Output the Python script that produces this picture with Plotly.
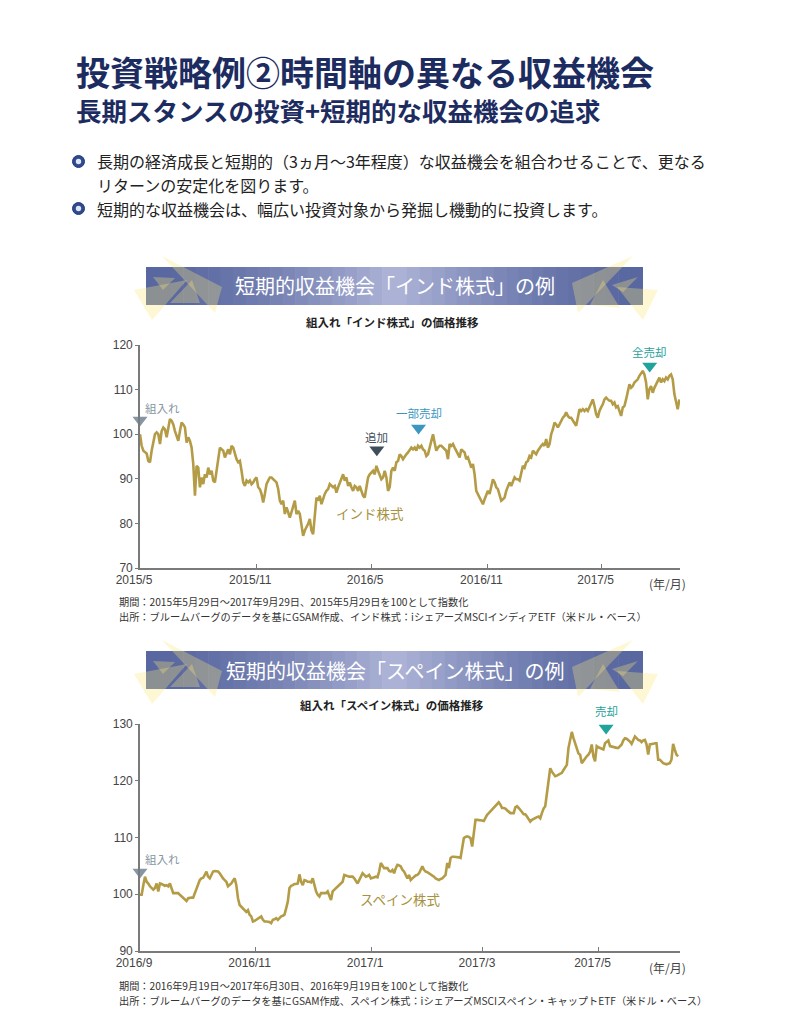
import plotly.graph_objects as go
import pandas as pd

# ---------------- data ----------------
india_start, india_end = "2015-05-29", "2017-09-29"
india_values = [
    100.0, 97.4, 96.3, 95.9, 95.7, 94.0, 93.7, 96.3, 98.5, 100.0,
    100.4, 100.0, 97.8, 100.7, 101.5, 101.1, 99.3, 101.5, 103.4, 103.0,
    102.2, 100.7, 99.3, 98.5, 100.7, 102.6, 102.2, 101.5, 98.1, 99.3,
    98.5, 97.0, 93.3, 86.2, 92.9, 92.5, 88.1, 90.3, 88.8, 91.0,
    90.3, 92.5, 91.0, 91.8, 89.6, 89.2, 91.8, 94.0, 97.0, 96.6,
    96.3, 94.8, 95.9, 96.6, 95.5, 97.4, 97.0, 95.5, 94.4, 93.7,
    94.0, 91.8, 89.2, 88.4, 89.6, 89.2, 89.6, 88.8, 89.2, 89.9,
    90.3, 88.1, 87.7, 86.6, 84.7, 86.6, 88.8, 89.6, 90.3, 90.3,
    89.9, 89.6, 89.2, 87.7, 85.1, 84.3, 85.1, 82.1, 83.6, 82.5,
    81.3, 82.5, 83.6, 85.1, 82.1, 82.8, 82.1, 79.9, 77.2, 78.4,
    79.1, 79.9, 81.0, 78.4, 77.6, 81.3, 85.8, 85.1, 86.2, 84.3,
    85.8, 86.6, 87.3, 87.7, 88.8, 88.4, 88.1, 88.4, 86.9, 88.1,
    89.2, 89.9, 91.0, 89.6, 90.3, 88.4, 89.2, 88.1, 87.3, 88.4,
    88.1, 87.3, 88.4, 87.3, 86.2, 85.8, 88.1, 90.3, 91.0, 91.4,
    91.8, 91.0, 92.9, 91.8, 91.0, 89.9, 90.3, 91.8, 90.3, 87.3,
    88.1, 91.8, 92.5, 91.8, 93.7, 94.0, 95.5, 95.1, 94.4, 95.1,
    95.5, 95.9, 96.6, 97.0, 96.6, 97.0, 96.3, 97.4, 97.0, 97.4,
    96.6, 96.3, 95.1, 95.5, 97.0, 98.5, 100.0, 98.1, 96.3, 97.0,
    97.4, 97.4, 97.0, 96.6, 96.3, 94.4, 97.8, 97.4, 97.8, 97.0,
    96.3, 95.5, 94.8, 96.6, 96.3, 95.9, 94.4, 94.8, 93.7, 92.5,
    93.3, 91.0, 87.3, 86.6, 85.8, 85.1, 84.3, 85.4, 86.6, 87.3,
    86.6, 88.4, 89.9, 89.2, 88.1, 87.7, 86.6, 85.1, 85.4, 85.8,
    87.3, 88.1, 89.2, 88.4, 89.6, 90.3, 89.9, 89.9, 89.6, 91.0,
    92.9, 92.5, 93.7, 94.0, 95.1, 94.8, 96.3, 95.9, 95.5, 96.3,
    97.0, 97.4, 97.8, 97.4, 98.9, 97.0, 97.8, 100.0, 101.1, 102.6,
    102.2, 101.5, 102.2, 103.0, 103.7, 104.1, 104.9, 104.1, 103.7, 103.7,
    103.0, 102.6, 101.9, 103.7, 105.6, 105.2, 105.6, 105.2, 105.6, 105.2,
    106.0, 107.1, 107.8, 106.3, 104.5, 103.7, 105.2, 106.0, 106.7, 107.8,
    108.2, 107.8, 107.5, 107.5, 106.7, 107.1, 106.0, 106.3, 105.2, 104.1,
    106.0, 106.3, 107.8, 109.3, 111.2, 110.4, 110.8, 111.6, 111.9, 112.3,
    113.1, 113.8, 114.2, 113.4, 111.6, 107.8, 110.1, 110.8, 109.3, 110.4,
    111.2, 111.9, 112.7, 111.6, 112.3, 111.9, 112.7, 112.3, 113.1, 113.4,
    112.3, 109.0, 107.5, 105.6, 107.8,
]
india_tick_dates = ["2015-05-29", "2015-11-29", "2016-05-29", "2016-11-29", "2017-05-29"]
india_tick_text = ["2015/5", "2015/11", "2016/5", "2016/11", "2017/5"]
india_events = ["組入れ", "追加", "一部売却", "全売却"]
india_event_dates = ["2015-05-29", "2016-06-07", "2016-08-12", "2017-08-13"]
india_event_y = [103.2, 96.5, 101.4, 115.3]
india_event_colors = ["#8796a4", "#3e4f5b", "#3b97bf", "#1fa39b"]

spain_start, spain_end = "2016-09-19", "2017-06-30"
spain_values = [
    99.9, 99.9, 101.6, 103.1, 102.2, 101.9, 101.4, 101.1, 100.8, 101.1,
    101.9, 100.5, 101.9, 101.8, 101.6, 101.5, 101.6, 101.4, 101.9, 101.1,
    100.2, 100.2, 100.2, 100.2, 99.9, 99.6, 99.3, 99.0, 98.8, 99.3,
    99.4, 99.4, 99.4, 100.2, 101.1, 101.9, 102.5, 102.8, 102.9, 103.4,
    104.0, 103.1, 102.8, 103.4, 104.0, 104.1, 104.1, 104.0, 103.7, 103.1,
    102.8, 102.5, 102.2, 101.4, 101.6, 101.9, 102.4, 102.8, 101.6, 99.3,
    98.1, 97.8, 97.5, 97.2, 96.9, 97.2, 96.4, 96.1, 95.2, 95.3,
    95.5, 95.8, 95.9, 96.1, 95.5, 95.2, 95.2, 95.2, 95.1, 94.9,
    95.5, 95.6, 95.8, 95.5, 95.8, 96.1, 96.2, 96.4, 97.5, 98.7,
    101.1, 101.5, 101.6, 101.8, 101.8, 101.9, 103.5, 102.2, 101.6, 102.5,
    102.4, 102.2, 102.2, 102.1, 102.8, 101.6, 100.5, 99.9, 99.6, 100.2,
    100.2, 100.2, 100.2, 100.5, 99.9, 99.0, 100.5, 100.8, 101.1, 101.4,
    101.6, 101.9, 102.2, 103.4, 103.3, 103.1, 103.1, 103.1, 103.1, 102.8,
    102.4, 101.9, 102.5, 103.1, 103.7, 103.4, 103.1, 103.2, 103.4, 102.8,
    102.9, 103.0, 103.1, 103.0, 104.0, 105.5, 104.9, 104.6, 104.6, 104.6,
    104.1, 104.0, 104.3, 103.7, 104.6, 105.2, 105.1, 104.9, 104.3, 104.0,
    103.4, 102.8, 103.4, 102.5, 102.8, 103.1, 103.3, 103.4, 103.7, 104.3,
    104.9, 104.3, 104.0, 103.9, 103.7, 103.6, 103.4, 103.1, 102.8, 102.7,
    102.5, 102.7, 102.8, 103.1, 103.4, 105.5, 104.6, 106.4, 106.6, 106.6,
    106.6, 106.5, 106.5, 106.4, 108.1, 109.9, 110.1, 110.2, 110.1, 109.9,
    108.4, 110.8, 113.1, 113.1, 113.1, 113.1, 113.0, 112.9, 113.5, 114.0,
    114.3, 114.6, 114.9, 115.2, 115.6, 115.9, 116.2, 115.8, 115.2, 115.2,
    115.1, 114.8, 114.5, 114.3, 114.3, 114.3, 115.3, 115.5, 115.2, 114.9,
    114.5, 114.1, 114.1, 113.7, 113.1, 112.8, 113.1, 113.3, 113.4, 113.6,
    113.7, 113.4, 114.3, 115.1, 115.5, 117.5, 119.9, 122.2, 121.6, 121.1,
    120.8, 120.9, 121.1, 121.2, 121.4, 121.9, 122.5, 122.8, 125.8, 127.5,
    128.6, 127.5, 126.6, 125.5, 124.8, 124.6, 123.1, 123.5, 124.0, 124.3,
    124.6, 125.1, 126.4, 124.3, 123.4, 126.1, 125.9, 125.8, 125.6, 125.5,
    126.6, 126.9, 127.1, 126.1, 126.0, 125.9, 125.9, 125.8, 125.8, 126.1,
    126.4, 127.1, 127.5, 127.4, 127.2, 126.9, 126.5, 127.2, 127.8, 127.5,
    127.2, 127.1, 126.8, 127.1, 127.2, 126.4, 124.6, 126.4, 126.4, 126.5,
    126.6, 126.6, 123.7, 123.7, 123.4, 123.1, 123.0, 122.9, 123.0, 123.1,
    123.7, 126.5, 125.5, 124.6, 124.3,
]
spain_tick_dates = ["2016-09-19", "2016-11-19", "2017-01-19", "2017-03-19", "2017-05-19"]
spain_tick_text = ["2016/9", "2016/11", "2017/1", "2017/3", "2017/5"]
spain_events = ["組入れ", "売却"]
spain_event_dates = ["2016-09-19", "2017-05-23"]
spain_event_y = [103.9, 129.3]
spain_event_colors = ["#8796a4", "#1fa39b"]

india_dates = pd.date_range(india_start, india_end, periods=len(india_values))
spain_dates = pd.date_range(spain_start, spain_end, periods=len(spain_values))

# ---------------- figure ----------------
W, H = 800, 1016
def X(px): return px / W
def Y(py): return 1 - py / H

GOLD = "#b49c47"
NAVY = "#1d2c60"
JP = "Noto Sans CJK JP"
AX = "#7a7a7a"

fig = go.Figure()
fig.add_trace(go.Scatter(x=india_dates, y=india_values, mode="lines",
                         line=dict(color=GOLD, width=2.6), xaxis="x", yaxis="y",
                         hoverinfo="skip", showlegend=False))
fig.add_trace(go.Scatter(x=spain_dates, y=spain_values, mode="lines",
                         line=dict(color=GOLD, width=2.6), xaxis="x2", yaxis="y2",
                         hoverinfo="skip", showlegend=False))
fig.add_trace(go.Scatter(x=india_event_dates, y=india_event_y, mode="markers",
                         marker=dict(symbol="triangle-down", size=13, color=india_event_colors),
                         xaxis="x", yaxis="y", cliponaxis=False, showlegend=False, hoverinfo="skip"))
fig.add_trace(go.Scatter(x=spain_event_dates, y=spain_event_y, mode="markers",
                         marker=dict(symbol="triangle-down", size=13, color=spain_event_colors),
                         xaxis="x2", yaxis="y2", cliponaxis=False, showlegend=False, hoverinfo="skip"))

ann = []
def txt(x, y, s, size, color="#222", anchor="left", bold=False, family=JP, xref="paper", yref="paper",
        xshift=0, yshift=0):
    t = f"<b>{s}</b>" if bold else s
    ann.append(dict(x=x, y=y, xref=xref, yref=yref, text=t, showarrow=False,
                    xanchor=anchor, yanchor="middle", xshift=xshift, yshift=yshift, align="left",
                    font=dict(family=family, size=size, color=color)))

# event labels
india_shift = [(22, 12), (0, 13), (0, 15), (0, 14)]
for name, d, v, c, (xs, ys) in zip(india_events, india_event_dates, india_event_y, india_event_colors, india_shift):
    txt(d, v, name, 11.5, c, anchor="center", xref="x", yref="y", xshift=xs, yshift=ys)
spain_shift = [(22, 13), (0, 17)]
for name, d, v, c, (xs, ys) in zip(spain_events, spain_event_dates, spain_event_y, spain_event_colors, spain_shift):
    txt(d, v, name, 11.5, c, anchor="center", xref="x2", yref="y2", xshift=xs, yshift=ys)

# series labels
txt(X(370), Y(513), "インド株式", 13.5, "#a8913f", anchor="center")
txt(X(400), Y(899), "スペイン株式", 13.5, "#a8913f", anchor="center")

# headings (title + subtitle in one text block)
title_text = ("<span style='font-size:34px'>投資戦略例②時間軸の異なる収益機会</span><br>"
              "<span style='font-size:25.5px'>長期スタンスの投資+短期的な収益機会の追求</span>")
txt(X(74), Y(88), title_text, 27, NAVY, bold=True)
txt(X(95), Y(161), "長期の経済成長と短期的（3ヵ月～3年程度）な収益機会を組合わせることで、更なる", 16, "#222")
txt(X(95), Y(185), "リターンの安定化を図ります。", 16, "#222")
txt(X(95), Y(209), "短期的な収益機会は、幅広い投資対象から発掘し機動的に投資します。", 16, "#222")

# chart subtitles and footnotes
txt(X(392), Y(322), "組入れ「インド株式」の価格推移", 11.5, "#222", anchor="center", bold=True)
txt(X(392), Y(705), "組入れ「スペイン株式」の価格推移", 11.5, "#222", anchor="center", bold=True)
txt(X(667), Y(583), "(年/月)", 12, "#444", anchor="center")
txt(X(667), Y(967), "(年/月)", 12, "#444", anchor="center")
fn = 10.2
txt(X(117), Y(601), "期間：2015年5月29日～2017年9月29日、2015年5月29日を100として指数化", fn, "#333")
txt(X(117), Y(616), "出所：ブルームバーグのデータを基にGSAM作成、インド株式：iシェアーズMSCIインディアETF（米ドル・ベース）", fn, "#333")
txt(X(117), Y(985), "期間：2016年9月19日～2017年6月30日、2016年9月19日を100として指数化", fn, "#333")
txt(X(117), Y(1000), "出所：ブルームバーグのデータを基にGSAM作成、スペイン株式：iシェアーズMSCIスペイン・キャップトETF（米ドル・ベース）", fn, "#333")

shapes = []
# banners with a simulated horizontal gradient
def banner(y0, y1, label):
    x0, x1 = 146, 643
    n = 40
    edge = (88, 103, 160)
    mid = (176, 182, 216)
    cx = 395
    for i in range(n):
        a = x0 + (x1 - x0) * i / n
        b = x0 + (x1 - x0) * (i + 1) / n + 0.6
        m = (a + b) / 2
        t = max(0.0, 1 - abs(m - cx) / ((x1 - x0) / 2)) ** 1.6
        col = tuple(int(edge[k] + (mid[k] - edge[k]) * t) for k in range(3))
        shapes.append(dict(type="rect", xref="paper", yref="paper", x0=X(a), x1=X(min(b, x1)),
                           y0=Y(y1), y1=Y(y0), line=dict(width=0),
                           fillcolor=f"rgb{col}", layer="below"))
    txt(X(cx), Y((y0 + y1) / 2), label, 20, "white", anchor="center")
    # decorative translucent triangles
    dy = y0 - 267
    tris_left = [[(162, 256), (222, 287), (215, 313)],
                 [(134, 290), (187, 280), (152, 320)],
                 [(153, 277), (175, 278), (163, 290)],
                 [(170, 303), (192, 280), (200, 303)]]
    tris_right = [[(572, 283), (633, 256), (578, 313)],
                  [(603, 280), (620, 308), (590, 305)],
                  [(612, 285), (638, 277), (623, 292)],
                  [(617, 287), (658, 290), (643, 320)]]
    for tri in tris_left + tris_right:
        path = "M " + " L ".join(f"{X(px)},{Y(py + dy)}" for px, py in tri) + " Z"
        shapes.append(dict(type="path", xref="paper", yref="paper", path=path,
                           fillcolor="rgba(250,230,120,0.32)", line=dict(width=0), layer="above"))

banner(267, 305, "短期的収益機会「インド株式」の例")
banner(651, 689, "短期的収益機会「スペイン株式」の例")

# bullet icons
for cy in (161.5, 208.5):
    shapes.append(dict(type="circle", xref="paper", yref="paper", x0=X(72.5), x1=X(84.5),
                       y0=Y(cy + 6), y1=Y(cy - 6), fillcolor="#2f4a8f", line=dict(color="#243a78", width=1)))
    shapes.append(dict(type="circle", xref="paper", yref="paper", x0=X(75.8), x1=X(81.2),
                       y0=Y(cy + 2.7), y1=Y(cy - 2.7), fillcolor="#dfe6f3", line=dict(width=0)))

axis_common = dict(showgrid=False, zeroline=False, showline=True, linecolor=AX, linewidth=1.6,
                   automargin=False,
                   tickfont=dict(family="Liberation Sans", size=12, color="#444"))

fig.update_layout(
    width=W, height=H, autosize=False,
    margin=dict(l=0, r=0, t=0, b=0, pad=0, autoexpand=False),
    paper_bgcolor="white", plot_bgcolor="white", showlegend=False,
    xaxis=dict(domain=[X(140), X(680)], range=[india_start, "2017-09-30"], type="date",
               tickvals=india_tick_dates, ticktext=india_tick_text, ticks="inside", ticklen=4,
               tickcolor=AX, ticklabelshift=-6, anchor="y", **axis_common),
    yaxis=dict(domain=[Y(568), Y(345)], range=[70, 120], tickvals=[70, 80, 90, 100, 110, 120],
               ticks="outside", ticklen=3, tickcolor=AX, anchor="x", **axis_common),
    xaxis2=dict(domain=[X(140), X(680)], range=[spain_start, "2017-07-01"], type="date",
                tickvals=spain_tick_dates, ticktext=spain_tick_text, ticks="inside", ticklen=4,
                tickcolor=AX, ticklabelshift=-6, anchor="y2", **axis_common),
    yaxis2=dict(domain=[Y(951), Y(724)], range=[90, 130], tickvals=[90, 100, 110, 120, 130],
                ticks="outside", ticklen=3, tickcolor=AX, anchor="x2", **axis_common),
    annotations=ann, shapes=shapes,
)

fig.write_html("out.html", config={"responsive": False, "displayModeBar": False},
               post_script="document.body.style.margin='0px';document.body.style.padding='0px';")
